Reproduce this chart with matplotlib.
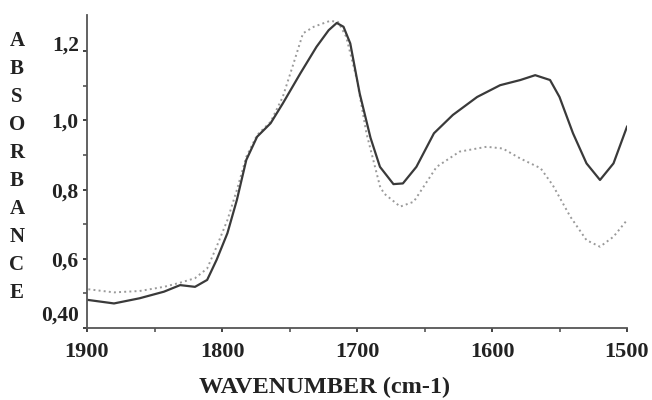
import matplotlib
matplotlib.use('Agg')
import matplotlib.pyplot as plt
import matplotlib.transforms as mtransforms
import numpy as np

# solid (dark) spectrum
wn_solid = [1899, 1880, 1861, 1843, 1831, 1820, 1811, 1804, 1796, 1789, 1782, 1774,
            1764, 1755, 1742, 1730, 1721, 1715, 1710, 1705, 1698, 1690, 1683, 1673,
            1666, 1656, 1643, 1629, 1611, 1594, 1579, 1568, 1557, 1550, 1540, 1530,
            1520, 1510, 1500]
abs_solid = [0.481, 0.471, 0.486, 0.505, 0.524, 0.519, 0.539, 0.597, 0.674, 0.770, 0.886, 0.953,
             0.992, 1.049, 1.136, 1.213, 1.261, 1.282, 1.271, 1.223, 1.078, 0.950, 0.866, 0.816,
             0.818, 0.866, 0.963, 1.016, 1.068, 1.102, 1.117, 1.131, 1.117, 1.068, 0.963, 0.876,
             0.828, 0.876, 0.982]

# dotted (light) spectrum
wn_dot = [1899, 1880, 1861, 1843, 1831, 1820, 1811, 1804, 1796, 1789, 1782, 1774,
          1764, 1755, 1747, 1740, 1732, 1720, 1714, 1708, 1700, 1693, 1683, 1680,
          1668, 1658, 1641, 1624, 1604, 1592, 1579, 1564, 1555, 1542, 1530, 1520,
          1510, 1500]
abs_dot = [0.512, 0.503, 0.507, 0.519, 0.531, 0.544, 0.572, 0.635, 0.712, 0.799, 0.895, 0.958,
           0.996, 1.068, 1.165, 1.252, 1.271, 1.288, 1.285, 1.242, 1.117, 0.963, 0.810, 0.789,
           0.751, 0.765, 0.866, 0.910, 0.924, 0.919, 0.890, 0.862, 0.813, 0.722, 0.654, 0.635,
           0.664, 0.712]

ytick_vals = [0.4, 0.6, 0.8, 1.0, 1.2]
ytick_labels = ['0,40', '0,6', '0,8', '1,0', '1,2']
xtick_vals = [1900, 1800, 1700, 1600, 1500]
ylabel_text = 'ABSORBANCE'
xlabel_text = 'WAVENUMBER (cm-1)'

plt.rcParams['font.family'] = ['Liberation Serif', 'DejaVu Serif']

fig = plt.figure(figsize=(6.52, 4.0), dpi=100)
ax = fig.add_axes([87/652, 72/400, 540/652, 313/400])

ax.plot(wn_dot, abs_dot, ':', color='#9a9a9a', lw=1.4)
ax.plot(wn_solid, abs_solid, '-', color='#3a3a3a', lw=1.6)

ax.set_xlim(1900, 1500)
ax.set_ylim(0.4, 1.305)

for s in ['top', 'right']:
    ax.spines[s].set_visible(False)
for s in ['left', 'bottom']:
    ax.spines[s].set_color('#555555')
    ax.spines[s].set_linewidth(1.3)

ax.set_xticks(xtick_vals)
ax.set_xticks(np.arange(1500, 1901, 50), minor=True)
ax.set_xticklabels([str(v) for v in xtick_vals])
ax.set_yticks(ytick_vals)
ax.set_yticks(np.arange(0.4, 1.25, 0.1), minor=True)
ax.set_yticklabels(ytick_labels)
ax.tick_params(which='both', length=3, width=1.2, color='#555555', direction='out')
ax.tick_params(axis='x', labelsize=16, pad=7, colors='#222222')
ax.tick_params(axis='y', labelsize=15.5, pad=3, colors='#222222')
for lab in ax.get_xticklabels() + ax.get_yticklabels():
    lab.set_fontweight('bold')
    lab.set_color('#222222')

# nudge first and last y labels like the original
ylabs = ax.get_yticklabels()
ylabs[0].set_transform(ylabs[0].get_transform() + mtransforms.ScaledTranslation(0, 15/100, fig.dpi_scale_trans))
ylabs[-1].set_transform(ylabs[-1].get_transform() + mtransforms.ScaledTranslation(0, 8/100, fig.dpi_scale_trans))

# stacked vertical letters
for i, ch in enumerate(ylabel_text):
    fig.text(17/652, 1 - (41 + i*28)/400, ch, ha='center', va='center',
             fontsize=15, fontweight='bold', color='#222222')

fig.text(325/652, 1 - 387/400, xlabel_text, ha='center', va='center',
         fontsize=17.5, fontweight='bold', color='#222222')

fig.savefig('out.png', dpi=100)
